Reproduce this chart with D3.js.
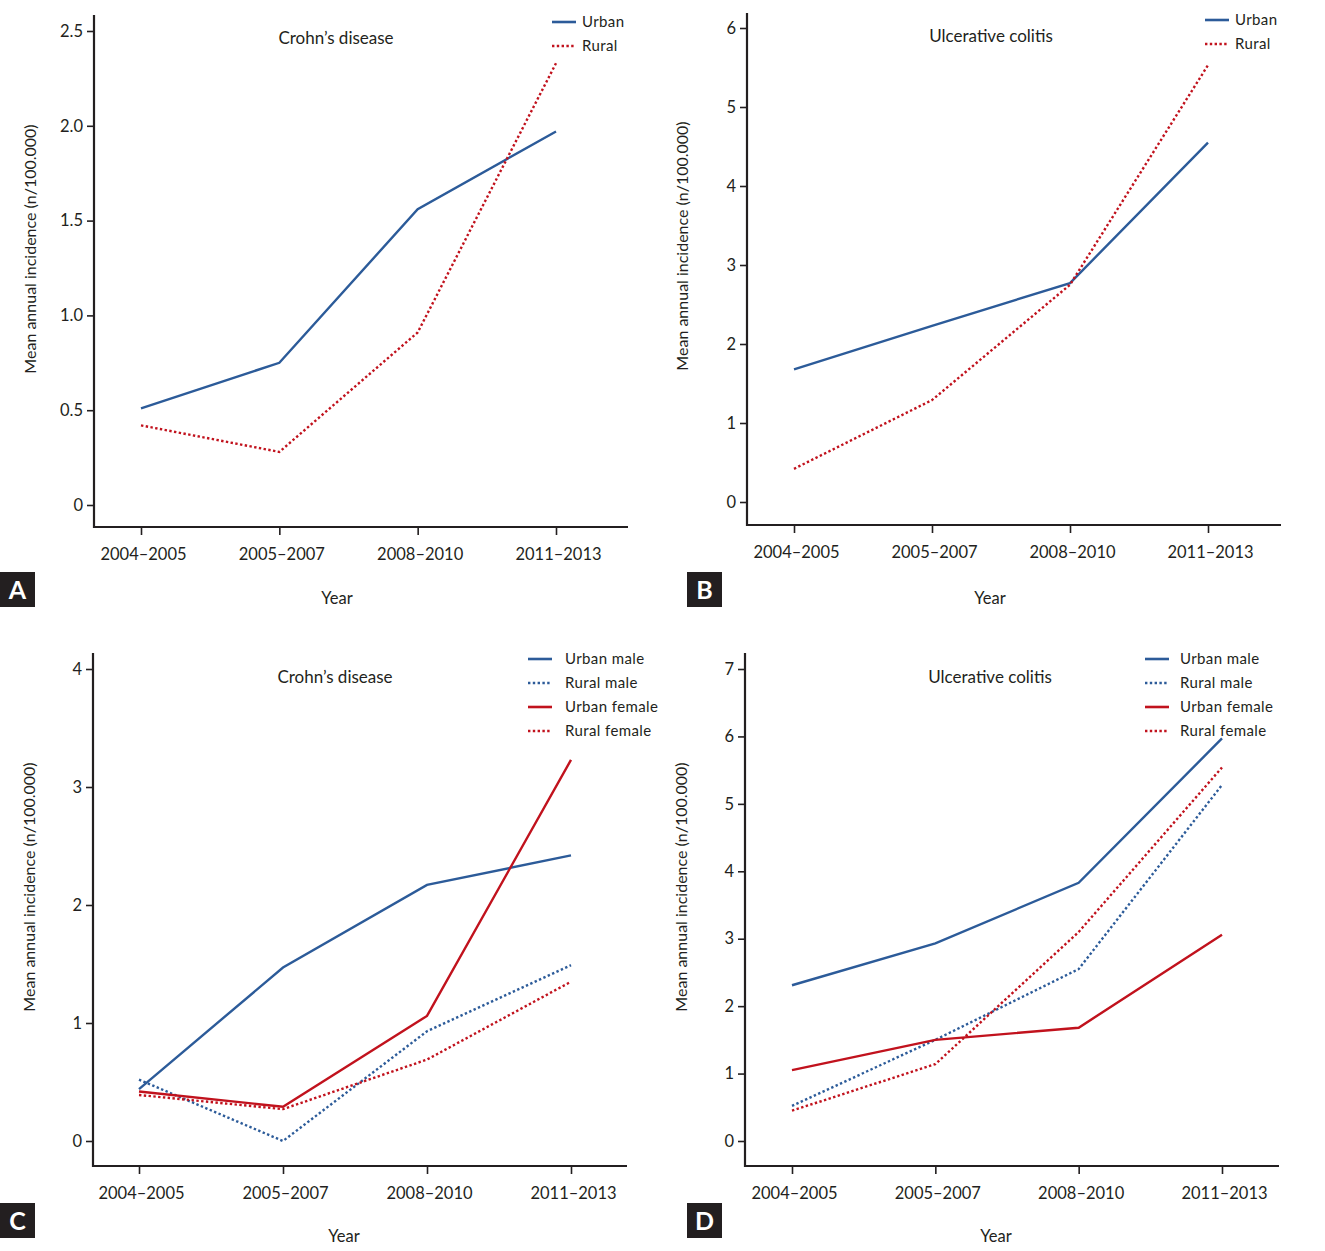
<!DOCTYPE html>
<html><head><meta charset="utf-8">
<script src="https://cdn.jsdelivr.net/npm/d3@7"></script>
<style>
body{margin:0;background:#fff;}
svg text{font-family:Lato,"Open Sans",sans-serif;fill:#231f20;}
</style></head>
<body><svg id="c" width="1325" height="1251"></svg>
<script>
const periods = ["2004–2005","2005–2007","2008–2010","2011–2013"];
// Panel A: Crohn's disease
const cdUrban = [0.51, 0.75, 1.56, 1.97];
const cdRural = [0.42, 0.28, 0.91, 2.33];
const ticksA = [0, 0.5, 1.0, 1.5, 2.0, 2.5];
// Panel B: Ulcerative colitis
const ucUrban = [1.68, 2.23, 2.77, 4.55];
const ucRural = [0.42, 1.29, 2.75, 5.53];
const ticksB = [0, 1, 2, 3, 4, 5, 6];
// Panel C: Crohn's disease by sex
const cdUrbanMale = [0.44, 1.47, 2.17, 2.42];
const cdRuralMale = [0.52, 0.00, 0.93, 1.49];
const cdUrbanFemale = [0.42, 0.29, 1.06, 3.23];
const cdRuralFemale = [0.39, 0.27, 0.69, 1.35];
const ticksC = [0, 1, 2, 3, 4];
// Panel D: Ulcerative colitis by sex
const ucUrbanMale = [2.31, 2.93, 3.83, 5.97];
const ucRuralMale = [0.52, 1.50, 2.55, 5.28];
const ucUrbanFemale = [1.05, 1.50, 1.68, 3.06];
const ucRuralFemale = [0.45, 1.14, 3.10, 5.54];
const ticksD = [0, 1, 2, 3, 4, 5, 6, 7];

const BLUE = "#2c5b99", RED = "#c1121d", INK = "#231f20";
const svg = d3.select("#c");

function panel(o){
  const g = svg.append("g");
  const x = d3.scalePoint().domain(periods).range([o.x0, o.x1]);
  const y = d3.scaleLinear().domain([0, o.ymax]).range([o.y0, o.y1]);
  // axes
  const yAx = g.append("g").attr("transform", `translate(${o.ax},0)`)
    .call(d3.axisLeft(y).tickValues(o.ticks).tickSize(7).tickPadding(4)
      .tickFormat(o.fmt));
  yAx.select(".domain").remove();
  yAx.selectAll(".tick line").attr("stroke", INK).attr("stroke-width", 1.6);
  yAx.selectAll(".tick text").attr("font-size", 16.5).attr("font-family","Lato").style("fill", INK);
  const xAx = g.append("g").attr("transform", `translate(0,${o.bottom})`)
    .call(d3.axisBottom(x).tickSize(8).tickPadding(13));
  xAx.select(".domain").remove();
  xAx.selectAll(".tick line").attr("stroke", INK).attr("stroke-width", 1.6);
  xAx.selectAll(".tick text").attr("font-size", 16.5).attr("font-family","Lato").attr("dx", 2).style("fill", INK);
  g.append("path").attr("d", `M${o.ax},${o.top}V${o.bottom}H${o.right}`)
    .attr("fill","none").attr("stroke", INK).attr("stroke-width", 2.2);
  // series
  const line = d3.line().x((d,i)=>x(periods[i])).y(d=>y(d));
  o.series.forEach(s=>{
    g.append("path").datum(s.v).attr("d", line).attr("fill","none")
      .attr("stroke", s.c).attr("stroke-width", 2.4)
      .attr("stroke-dasharray", s.dot ? "2.4,2.4" : null);
  });
  // legend
  o.series.forEach((s,i)=>{
    const ly = o.ly + i*24;
    g.append("line").attr("x1", o.lx).attr("x2", o.lx+24).attr("y1", ly).attr("y2", ly)
      .attr("stroke", s.c).attr("stroke-width", 2.6).attr("stroke-dasharray", s.dot ? "2.4,2.4" : null);
    g.append("text").attr("x", o.lx + o.lgap).attr("y", ly+5).attr("font-size", 15).attr("letter-spacing", 0.4).text(s.n);
  });
  // title
  g.append("text").attr("x", o.tx).attr("y", o.ty).attr("text-anchor","middle").attr("font-size", 17).text(o.title);
  // y title
  g.append("text").attr("transform", `translate(${o.ytx},${o.yty}) rotate(-90)`).attr("text-anchor","middle")
    .attr("font-size", 16).text("Mean annual incidence (n/100.000)");
  // x title
  g.append("text").attr("x", o.xtx).attr("y", o.xty).attr("text-anchor","middle").attr("font-size", 16.5).text("Year");
  // letter box
  g.append("rect").attr("x", o.bx).attr("y", o.by).attr("width", 35).attr("height", 35).attr("fill", INK);
  g.append("text").attr("x", o.bx+17.5).attr("y", o.by+27).attr("text-anchor","middle")
    .attr("font-size", 25).attr("font-weight","bold").style("fill","#fff").text(o.letter);
}

const f1 = d3.format(".1f"), f0 = d => d===0 ? "0" : d3.format("d")(d);
panel({letter:"A", title:"Crohn’s disease", ymax:2.5, ticks:ticksA, fmt:d=>d===0?"0":f1(d),
  x0:141, x1:556, y0:505, y1:31, ax:94, top:15, bottom:527, right:628,
  series:[{n:"Urban",v:cdUrban,c:BLUE},{n:"Rural",v:cdRural,c:RED,dot:true}],
  lx:552, lgap:30, ly:22, tx:336, ty:44, ytx:36, yty:249, xtx:337, xty:604, bx:0, by:572});
panel({letter:"B", title:"Ulcerative colitis", ymax:6, ticks:ticksB, fmt:f0,
  x0:794, x1:1208, y0:502, y1:28, ax:747, top:13, bottom:525, right:1281,
  series:[{n:"Urban",v:ucUrban,c:BLUE},{n:"Rural",v:ucRural,c:RED,dot:true}],
  lx:1205, lgap:30, ly:20, tx:991, ty:42, ytx:688, yty:246, xtx:990, xty:604, bx:687, by:572});
panel({letter:"C", title:"Crohn’s disease", ymax:4, ticks:ticksC, fmt:f0,
  x0:139, x1:571, y0:1141, y1:669, ax:93, top:653, bottom:1166, right:627,
  series:[{n:"Urban male",v:cdUrbanMale,c:BLUE},{n:"Rural male",v:cdRuralMale,c:BLUE,dot:true},
          {n:"Urban female",v:cdUrbanFemale,c:RED},{n:"Rural female",v:cdRuralFemale,c:RED,dot:true}],
  lx:528, lgap:37, ly:659, tx:335, ty:683, ytx:35, yty:887, xtx:344, xty:1242, bx:0, by:1203});
panel({letter:"D", title:"Ulcerative colitis", ymax:7, ticks:ticksD, fmt:f0,
  x0:792, x1:1222, y0:1141, y1:669, ax:745, top:653, bottom:1166, right:1279,
  series:[{n:"Urban male",v:ucUrbanMale,c:BLUE},{n:"Rural male",v:ucRuralMale,c:BLUE,dot:true},
          {n:"Urban female",v:ucUrbanFemale,c:RED},{n:"Rural female",v:ucRuralFemale,c:RED,dot:true}],
  lx:1145, lgap:35, ly:659, tx:990, ty:683, ytx:687, yty:887, xtx:996, xty:1242, bx:687, by:1203});
</script></body></html>
